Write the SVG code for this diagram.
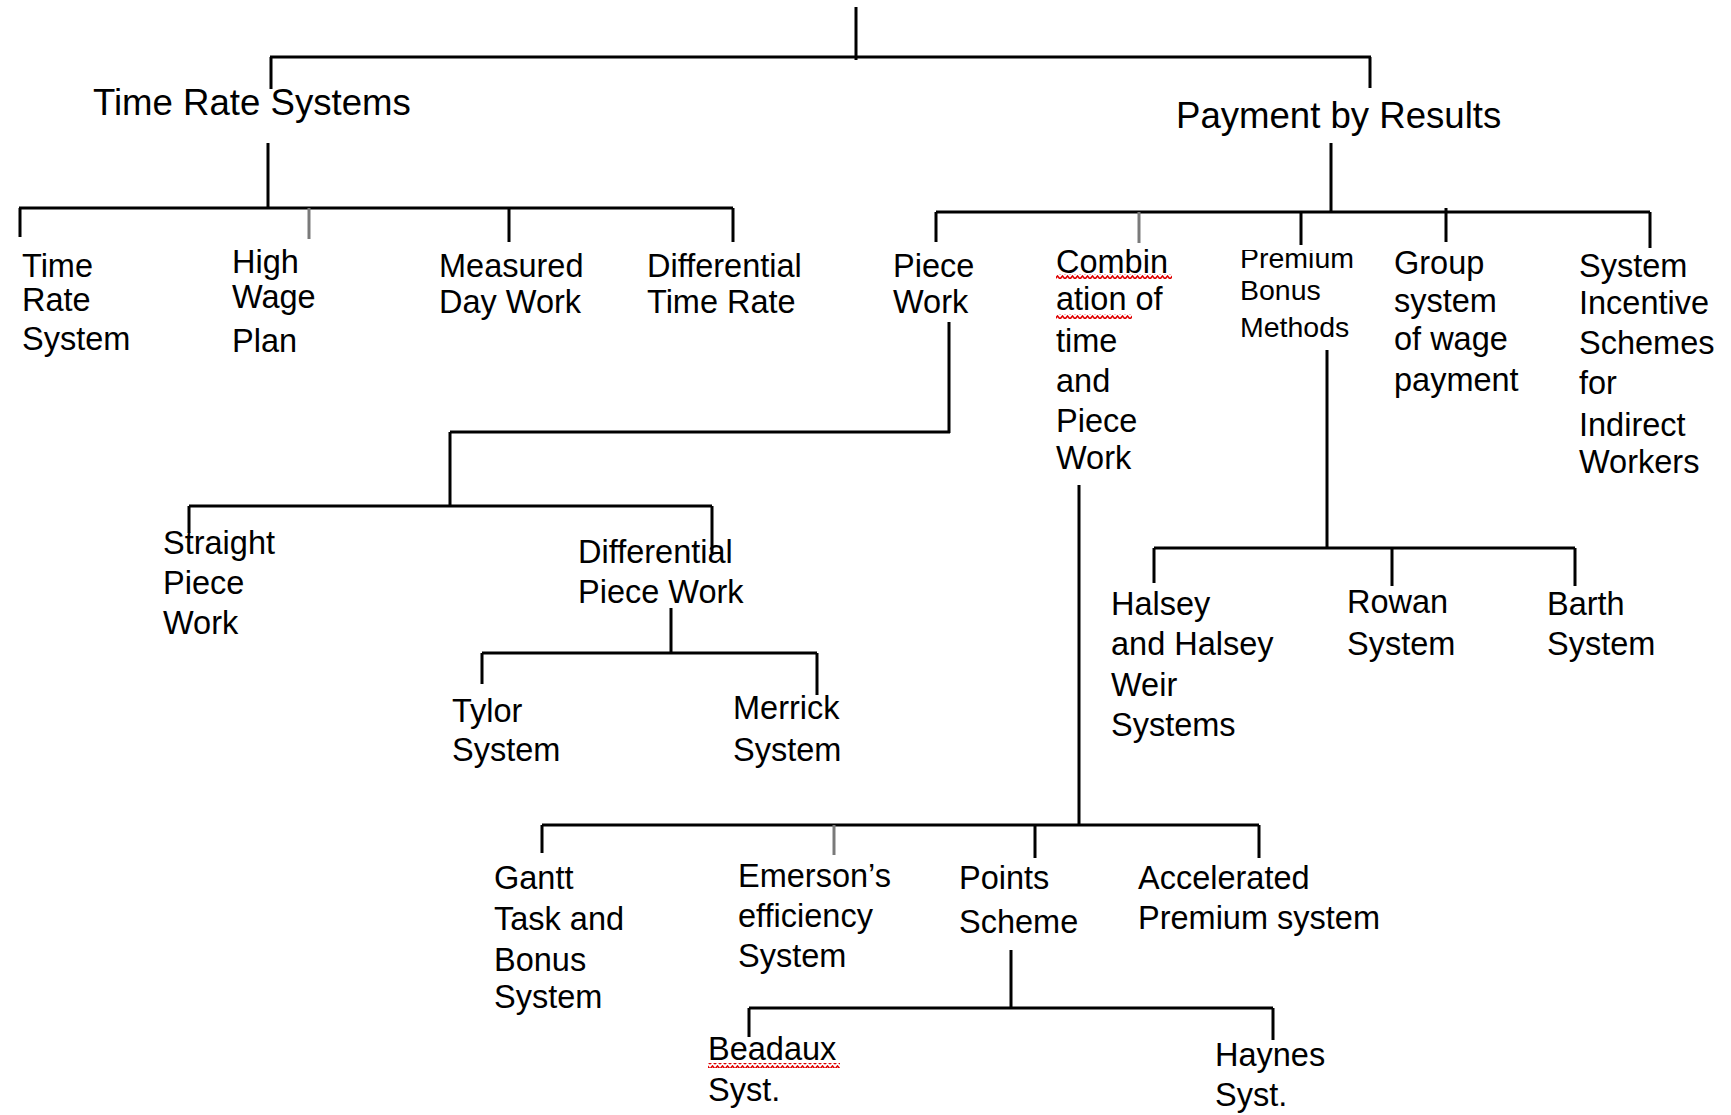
<svg xmlns="http://www.w3.org/2000/svg" width="1731" height="1115" viewBox="0 0 1731 1115">
<style>
.t{font-family:"Liberation Sans",Arial,sans-serif;font-size:32.5px;fill:#000}
.h{font-size:36.6px}
.s{font-size:28.5px}
.c{stroke:#000;stroke-width:3;fill:none}
.g{stroke:#7a7a7a}
.w{fill:url(#wavy)}
</style>
<defs>
<pattern id="wavy" width="5" height="5" patternUnits="userSpaceOnUse"><path d="M0,4 L2.5,1 L5,4" stroke="#e00000" stroke-width="1.6" fill="none"/></pattern>
<clipPath id="clipPrem"><rect x="1230" y="250" width="200" height="120"/></clipPath>
</defs>
<rect width="1731" height="1115" fill="#fff"/>
<g id="connectors">
<path class="c" d="M856,7 V60 M270,57 H1371 M271,57 V89 M1370,57 V88"/>
<path class="c" d="M268,143 V209 M19,208 H733 M20,208 V237 M509,208 V242 M733,208 V242"/>
<path class="c g" d="M309,208 V239"/>
<path class="c" d="M1331,143 V212 M936,212 H1650 M936,212 V242 M1301,212 V245 M1446,208 V242 M1650,212 V248"/>
<path class="c g" d="M1139,212 V243"/>
<path class="c" d="M949,322 V433 M450,432 H950 M450,432 V507 M189,506 H712 M189,506 V533 M712,506 V553"/>
<path class="c" d="M671,608 V653 M482,653 H817 M482,653 V684 M817,653 V695"/>
<path class="c" d="M1079,485 V825 M542,825 H1259 M542,825 V853 M1035,825 V858 M1259,825 V858"/>
<path class="c g" d="M834,825 V855"/>
<path class="c" d="M1011,950 V1008 M749,1008 H1273 M749,1008 V1037 M1273,1008 V1040"/>
<path class="c" d="M1327,350 V548 M1154,548 H1575 M1154,548 V583 M1392,548 V586 M1575,548 V586"/>
</g>
<g id="time-rate-systems"><text class="t h" x="93" y="115">Time Rate Systems</text></g>
<g id="payment-by-results"><text class="t h" x="1176" y="128">Payment by Results</text></g>
<g id="time-rate-system"><text class="t" x="22" y="277">Time</text><text class="t" x="22" y="311">Rate</text><text class="t" x="22" y="350">System</text></g>
<g id="high-wage-plan"><text class="t" x="232" y="273">High</text><text class="t" x="232" y="308">Wage</text><text class="t" x="232" y="352">Plan</text></g>
<g id="measured-day-work"><text class="t" x="439" y="277">Measured</text><text class="t" x="439" y="313">Day Work</text></g>
<g id="differential-time-rate"><text class="t" x="647" y="277">Differential</text><text class="t" x="647" y="313">Time Rate</text></g>
<g id="piece-work"><text class="t" x="893" y="277">Piece</text><text class="t" x="893" y="313">Work</text></g>
<g id="combination"><text class="t" x="1056" y="273">Combin</text><text class="t" x="1056" y="310">ation of</text><text class="t" x="1056" y="352">time</text><text class="t" x="1056" y="392">and</text><text class="t" x="1056" y="432">Piece</text><text class="t" x="1056" y="469">Work</text>
<rect class="w" x="1056" y="274" width="116" height="5"/><rect class="w" x="1056" y="314" width="76" height="5"/></g>
<g id="premium-bonus-methods"><text class="t s" x="1240" y="268" clip-path="url(#clipPrem)">Premium</text><text class="t s" x="1240" y="300">Bonus</text><text class="t s" x="1240" y="337">Methods</text></g>
<g id="group-system"><text class="t" x="1394" y="274">Group</text><text class="t" x="1394" y="312">system</text><text class="t" x="1394" y="350">of wage</text><text class="t" x="1394" y="391">payment</text></g>
<g id="system-incentive"><text class="t" x="1579" y="277">System</text><text class="t" x="1579" y="314">Incentive</text><text class="t" x="1579" y="354">Schemes</text><text class="t" x="1579" y="394">for</text><text class="t" x="1579" y="436">Indirect</text><text class="t" x="1579" y="473">Workers</text></g>
<g id="straight-piece-work"><text class="t" x="163" y="554">Straight</text><text class="t" x="163" y="594">Piece</text><text class="t" x="163" y="634">Work</text></g>
<g id="differential-piece-work"><text class="t" x="578" y="563">Differential</text><text class="t" x="578" y="603">Piece Work</text></g>
<g id="tylor-system"><text class="t" x="452" y="722">Tylor</text><text class="t" x="452" y="761">System</text></g>
<g id="merrick-system"><text class="t" x="733" y="719">Merrick</text><text class="t" x="733" y="761">System</text></g>
<g id="halsey"><text class="t" x="1111" y="615">Halsey</text><text class="t" x="1111" y="655">and Halsey</text><text class="t" x="1111" y="696">Weir</text><text class="t" x="1111" y="736">Systems</text></g>
<g id="rowan-system"><text class="t" x="1347" y="613">Rowan</text><text class="t" x="1347" y="655">System</text></g>
<g id="barth-system"><text class="t" x="1547" y="615">Barth</text><text class="t" x="1547" y="655">System</text></g>
<g id="gantt"><text class="t" x="494" y="889">Gantt</text><text class="t" x="494" y="930">Task and</text><text class="t" x="494" y="971">Bonus</text><text class="t" x="494" y="1008">System</text></g>
<g id="emerson"><text class="t" x="738" y="887">Emerson’s</text><text class="t" x="738" y="927">efficiency</text><text class="t" x="738" y="967">System</text></g>
<g id="points-scheme"><text class="t" x="959" y="889">Points</text><text class="t" x="959" y="933">Scheme</text></g>
<g id="accelerated-premium"><text class="t" x="1138" y="889">Accelerated</text><text class="t" x="1138" y="929">Premium system</text></g>
<g id="beadaux"><text class="t" x="708" y="1060">Beadaux</text><text class="t" x="708" y="1101">Syst.</text><rect class="w" x="708" y="1063" width="132" height="5"/></g>
<g id="haynes"><text class="t" x="1215" y="1066">Haynes</text><text class="t" x="1215" y="1106">Syst.</text></g>
</svg>
